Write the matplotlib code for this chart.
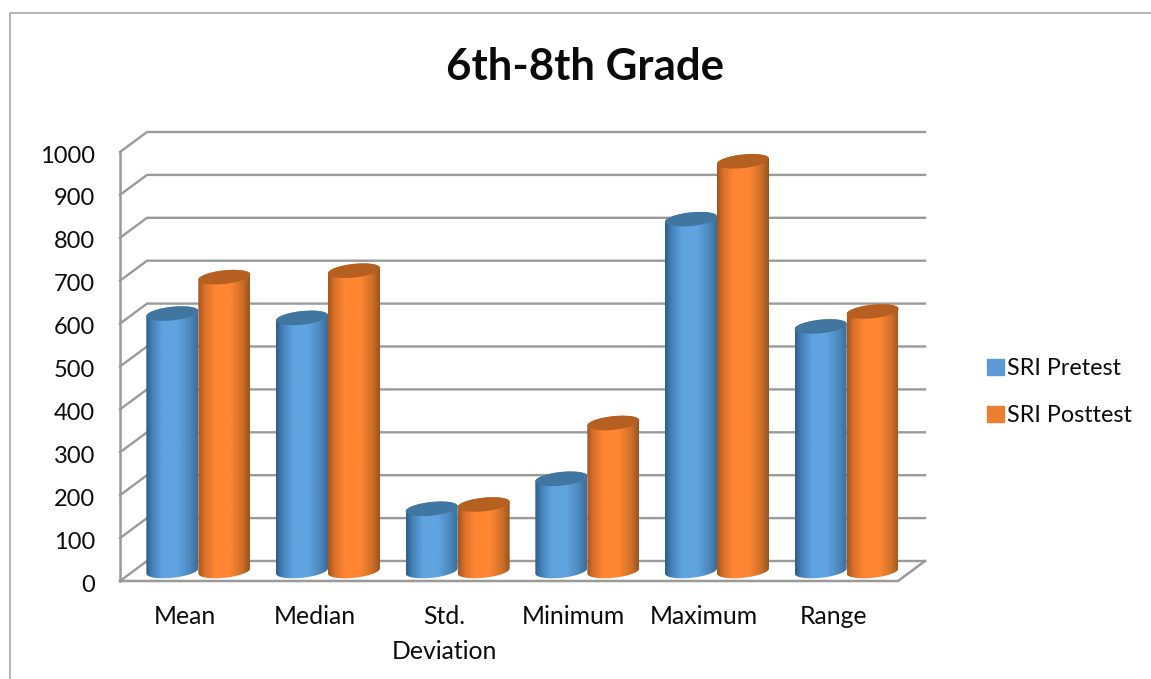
import numpy as np
import matplotlib
matplotlib.use("Agg")
import matplotlib.pyplot as plt
from matplotlib.colors import LinearSegmentedColormap
from matplotlib.lines import Line2D
from matplotlib.patches import Patch, PathPatch
from matplotlib.path import Path
from matplotlib.transforms import ScaledTranslation

categories = ["Mean", "Median", "Std.\nDeviation", "Minimum", "Maximum", "Range"]
pretest = [600, 590, 145, 215, 820, 570]
posttest = [685, 700, 155, 345, 955, 605]
yticks = list(range(0, 1001, 100))

plt.rcParams['font.family'] = ['Lato', 'DejaVu Sans']

W, H = 1151, 679
GRID = "#9a9a9a"
TEXT = "#0c0c0c"

# size of one category / one value unit in pixels, used to fake the 3d depth
px_x = 778 / 6
px_y = 429 / 1000
dx = 27 / px_x
dy = 20 / px_y
bar_w = 52 / px_x
semi_b = 6.8 / px_y
tilt = 0.1 * px_x / px_y

blue = LinearSegmentedColormap.from_list("blue", [
    (0, "#2f5f88"), (0.12, "#4480b8"), (0.32, "#5fa3e0"), (0.62, "#5fa3e0"),
    (0.85, "#4d88bd"), (1, "#3b6d99")])
orange = LinearSegmentedColormap.from_list("orange", [
    (0, "#a2561f"), (0.12, "#d87029"), (0.32, "#fe8633"), (0.62, "#fe8633"),
    (0.85, "#d07029"), (1, "#9a5420")])


def ring(cx, cy, t):
    a = bar_w / 2
    return np.column_stack([cx + a * np.cos(t), cy + semi_b * np.sin(t) + tilt * a * np.cos(t)])


def cylinder(ax, x0, value, cmap, top_color):
    cx = x0 + bar_w / 2
    base = dy / 2
    top = base + value
    # outline: back half of the top ring, then front half of the bottom ring
    upper = ring(cx, top, np.linspace(0, np.pi, 40))
    lower = ring(cx, base, np.linspace(np.pi, 2 * np.pi, 40))
    verts = np.vstack([upper, lower, upper[:1]])
    body = Path(verts, closed=True)
    img = ax.imshow(np.linspace(0, 1, 128).reshape(1, -1), cmap=cmap, aspect="auto",
                    extent=(x0, x0 + bar_w, -50, 1100), zorder=3, interpolation="bilinear")
    img.set_clip_path(PathPatch(body, transform=ax.transData))
    cap = ring(cx, top, np.linspace(0, 2 * np.pi, 80))
    ax.fill(cap[:, 0], cap[:, 1], color=top_color, lw=0, zorder=3, clip_on=False)


fig = plt.figure(figsize=(W / 100, H / 100), dpi=100)
ax = fig.add_axes([120 / W, (H - 581) / H, 778 / W, 429 / H])

# walls and floor
for v in yticks:
    ax.plot([0, dx, 6 + dx], [v, v + dy, v + dy], color=GRID, lw=1.7, clip_on=False,
            zorder=1, solid_joinstyle="miter")
ax.plot([0, 0], [0, 1000], color=GRID, lw=1.8, clip_on=False, zorder=2)
ax.plot([0, 6, 6 + dx], [0, 0, dy], color=GRID, lw=1.8, clip_on=False, zorder=2)

# bars, pretest first so the posttest cylinder overlaps it
gap = (1 - 2 * bar_w) / 2
for i in range(len(categories)):
    left = i + dx / 2 + gap
    cylinder(ax, left, pretest[i], blue, "#40769f")
    cylinder(ax, left + bar_w, posttest[i], orange, "#b55f20")

ax.set_xlim(0, 6)
ax.set_ylim(0, 1000)
for s in ax.spines.values():
    s.set_visible(False)
ax.set_xticks(np.arange(6) + 0.5)
ax.set_xticklabels(categories, fontsize=17.8, color=TEXT, linespacing=1.65)
ax.set_yticks(yticks)
ax.set_yticklabels([str(v) for v in yticks], fontsize=17, color=TEXT)
ax.tick_params(axis="both", length=0)
ax.tick_params(axis="y", pad=18)
ax.tick_params(axis="x", pad=17)

# tick numbers sit a little below their gridline
nudge = ScaledTranslation(0, -2 / 100, fig.dpi_scale_trans)
for lbl in ax.get_yticklabels():
    lbl.set_transform(lbl.get_transform() + nudge)

fig.text(585.5 / W, 1 - 67 / H, "6th-8th Grade", fontsize=31.5, fontweight="bold",
         color="#0a0a0a", ha="center", va="center")

handles = [Patch(color="#5b9bd5", label="SRI Pretest"), Patch(color="#ed7d31", label="SRI Posttest")]
fig.legend(handles=handles, loc="upper left", bbox_to_anchor=(980 / W, 1 - 351 / H), frameon=False,
           fontsize=16.8, labelcolor=TEXT, handlelength=0.72, handleheight=0.72,
           handletextpad=0.15, labelspacing=1.12, borderpad=0.3, borderaxespad=0)

# chart frame, only the top and left edges are inside the canvas
fig.add_artist(Line2D([10 / W, 10 / W, 1], [0, 1 - 13 / H, 1 - 13 / H], color="#a8a8a8", lw=1.2))

fig.savefig("out.png", dpi=100)
